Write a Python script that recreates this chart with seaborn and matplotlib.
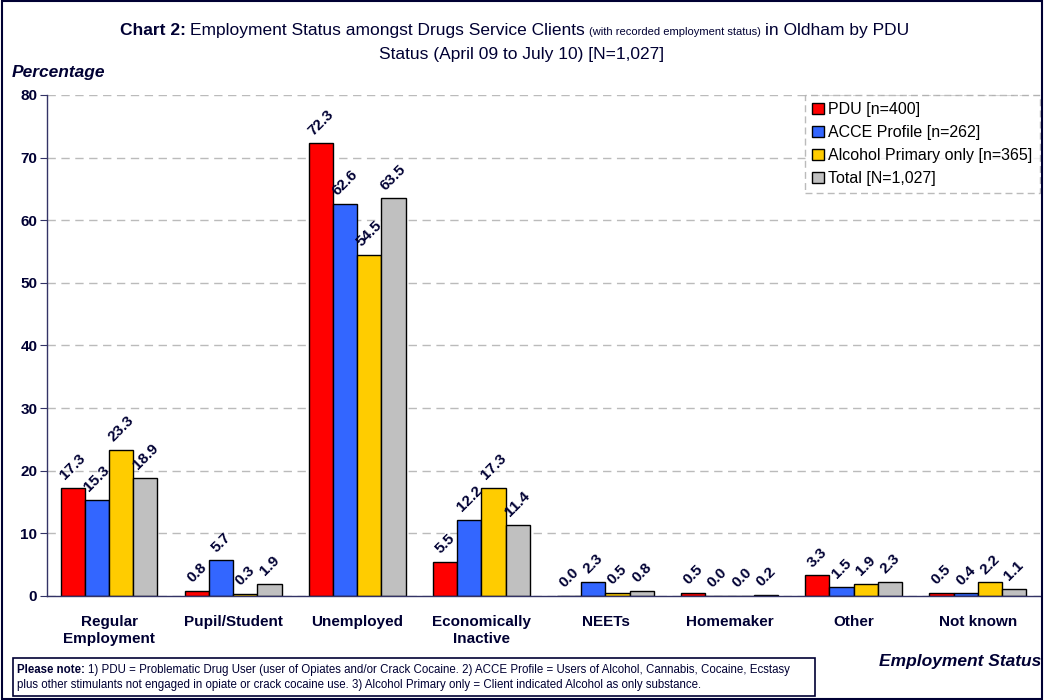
import matplotlib
matplotlib.use("Agg")
import matplotlib.pyplot as plt
import seaborn as sns
import pandas as pd
import numpy as np
from matplotlib.patches import Rectangle

categories = ["Regular\nEmployment", "Pupil/Student", "Unemployed", "Economically\nInactive",
              "NEETs", "Homemaker", "Other", "Not known"]
series = ["PDU [n=400]", "ACCE Profile [n=262]", "Alcohol Primary only [n=365]", "Total [N=1,027]"]
pdu = [17.3, 0.8, 72.3, 5.5, 0.0, 0.5, 3.3, 0.5]
acce = [15.3, 5.7, 62.6, 12.2, 2.3, 0.0, 1.5, 0.4]
alcohol = [23.3, 0.3, 54.5, 17.3, 0.5, 0.0, 1.9, 2.2]
total = [18.9, 1.9, 63.5, 11.4, 0.8, 0.2, 2.3, 1.1]
colors = ["#FF0000", "#3366FF", "#FFCC00", "#C0C0C0"]

rows = []
for s, vals in zip(series, [pdu, acce, alcohol, total]):
    for c, v in zip(categories, vals):
        rows.append({"cat": c, "series": s, "value": v})
df = pd.DataFrame(rows)

sns.set_style("white")
plt.rcParams["font.family"] = ["Liberation Sans", "DejaVu Sans"]
navy = "#000033"

fig = plt.figure(figsize=(10.44, 7.0), dpi=100)
ax = fig.add_axes([0.045, 0.1486, 0.951, 0.7157])

sns.barplot(data=df, x="cat", y="value", hue="series", palette=colors, ax=ax,
            width=0.78, edgecolor="black", linewidth=1.0, saturation=1, legend=True)

for cont in ax.containers:
    ax.bar_label(cont, fmt="%.1f", rotation=45, padding=4, fontsize=11,
                 fontweight="bold", color=navy)

ax.set_ylim(0, 80)
ax.set_xlim(-0.5, 7.5)
ax.set_yticks(range(0, 81, 10))
ax.set_yticklabels([str(v) for v in range(0, 81, 10)], fontsize=11, fontweight="bold", color=navy)
ax.yaxis.grid(True, linestyle=(0, (6, 4)), color="#BBBBBB", linewidth=1)
ax.set_axisbelow(True)
ax.set_xlabel("")
ax.set_ylabel("")

ax.set_xticks(range(8))
ax.set_xticklabels(categories, fontsize=11, fontweight="bold", color=navy)
ax.tick_params(axis="x", length=0, pad=14)
ax.set_xticks(np.arange(-0.5, 8, 1), minor=True)
ax.tick_params(axis="x", which="minor", length=5, direction="out", color="#333366")
ax.tick_params(axis="y", length=5, direction="out", color="#333366", pad=2, left=True)

for sp in ["top", "right"]:
    ax.spines[sp].set_visible(False)
for sp in ["left", "bottom"]:
    ax.spines[sp].set_color("#333366")
    ax.spines[sp].set_linewidth(1.0)

leg = ax.legend(loc="upper right", bbox_to_anchor=(1.0, 1.0), borderaxespad=0.0,
                fontsize=11.5, frameon=True, fancybox=False, handlelength=0.7,
                handleheight=0.7, handletextpad=0.3, borderpad=0.45, labelspacing=0.5)
leg.get_frame().set_edgecolor("#AAAAAA")
leg.get_frame().set_linestyle((0, (5, 3)))
leg.get_frame().set_linewidth(1)
for t in leg.get_texts():
    t.set_color("black")

# Title
t1 = fig.text(0.115, 0.956, "Chart 2:", fontsize=12.5, fontweight="bold", color=navy, va="center")
fig.canvas.draw()
r = fig.canvas.get_renderer()
x = t1.get_window_extent(r).x1 / fig.bbox.width + 0.004
t2 = fig.text(x, 0.956, "Employment Status amongst Drugs Service Clients", fontsize=12.5, color=navy, va="center")
x = t2.get_window_extent(r).x1 / fig.bbox.width + 0.004
t3 = fig.text(x, 0.954, "(with recorded employment status)", fontsize=8, color=navy, va="center")
x = t3.get_window_extent(r).x1 / fig.bbox.width + 0.004
t4 = fig.text(x, 0.956, "in Oldham by PDU", fontsize=12.5, color=navy, va="center")
fig.text(0.5, 0.922, "Status (April 09 to July 10) [N=1,027]", fontsize=12.5, color=navy,
         ha="center", va="center")

fig.text(0.011, 0.897, "Percentage", fontsize=12.5, fontweight="bold", style="italic",
         color=navy, va="center")
fig.text(0.997, 0.055, "Employment Status", fontsize=12.5, fontweight="bold", style="italic",
         color=navy, ha="right", va="center")

# Note box
fig.patches.append(Rectangle((0.012, 0.006), 0.769, 0.054, transform=fig.transFigure,
                             fill=False, edgecolor=navy, linewidth=1.2))
nx = 0.016
n1 = fig.text(nx, 0.043, "Please note:", fontsize=8.3, fontweight="bold", color=navy, va="center")
fig.canvas.draw()
x = n1.get_window_extent(r).x1 / fig.bbox.width + 0.003
fig.text(x, 0.043, "1) PDU = Problematic Drug User (user of Opiates and/or Crack Cocaine. 2) ACCE Profile = Users of Alcohol, Cannabis, Cocaine, Ecstasy",
         fontsize=8.3, color=navy, va="center")
fig.text(nx, 0.021, "plus other stimulants not engaged in opiate or crack cocaine use. 3) Alcohol Primary only = Client indicated Alcohol as only substance.",
         fontsize=8.3, color=navy, va="center")

# Outer border
fig.patches.append(Rectangle((0.0015, 0.002), 0.997, 0.996, transform=fig.transFigure,
                             fill=False, edgecolor=navy, linewidth=1.5))

fig.savefig("out.png", dpi=100)
